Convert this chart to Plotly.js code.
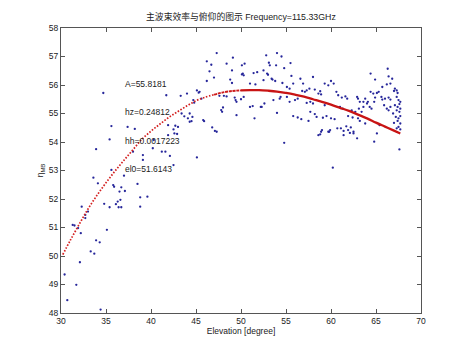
<!DOCTYPE html>
<html>
<head>
<meta charset="utf-8">
<script src="https://cdn.plot.ly/plotly-3.0.1.min.js"></script>
<style>html,body{margin:0;padding:0;background:#fff;}#chart{width:466px;height:351px;}</style>
</head>
<body>
<div id="chart"></div>
<script>
// Measured data (elevation in degrees, main-beam efficiency)
const measEl = [
34.7,41.7,35.6,37.4,38.2,35.4,33.9,38.0,39.1,39.1,40.2,41.2,41.6,40.3,33.6,34.1,35.8,35.9,36.7,37.1,
38.5,34.8,35.4,36.3,36.4,36.7,38.8,39.6,38.8,32.3,32.7,32.7,33.0,31.3,31.5,31.9,32.2,35.1,33.9,34.3,
33.3,33.7,32.1,30.4,31.7,30.7,34.4,35.6,37.0,42.5,36.5,36.6,36.1,
46.2,47.3,46.7,48.4,49.1,49.0,50.2,50.4,51.4,46.2,47.0,48.8,51.0,45.1,45.3,44.0,43.3,44.7,44.8,47.6,
48.1,49.4,48.0,47.9,49.5,51.5,44.3,44.6,43.7,43.4,45.8,45.9,44.3,46.8,47.1,43.0,42.7,42.5,41.9,45.1,
42.1,46.5,50.1,50.1,50.3,51.8,52.5,49.0,51.6,52.5,45.4,45.6,48.4,49.3,49.5,50.0,50.3,51.0,51.3,52.2,
47.8,44.1,44.5,42.9,41.9,42.6,47.3,
54.0,54.5,52.8,53.1,53.2,53.9,55.5,54.8,52.9,53.0,53.5,53.8,53.4,55.6,56.6,58.0,54.6,55.1,55.4,55.8,
56.9,59.3,59.7,60.0,60.3,57.6,57.3,58.2,58.8,56.8,57.1,58.6,58.9,53.6,54.3,54.4,55.1,56.0,56.3,55.4,
57.3,57.7,58.0,59.3,60.6,60.8,61.2,61.6,61.8,61.0,61.3,52.6,52.3,54.0,55.8,56.3,56.7,57.5,57.7,58.2,
58.4,59.1,59.5,60.0,60.4,59.0,58.8,59.8,59.9,60.7,61.1,61.4,61.7,54.8,60.2,
64.4,66.3,64.9,66.4,65.7,66.2,66.6,66.8,65.3,64.7,65.1,64.4,67.1,67.3,67.4,67.0,65.6,66.0,66.4,66.6,
65.7,64.9,64.8,67.3,67.5,67.7,67.6,67.1,67.4,67.7,67.3,67.6,63.8,64.0,64.1,63.6,64.3,64.5,65.9,66.2,
66.4,66.6,63.4,66.9,67.2,67.5,67.7,67.4,67.0,67.7,67.5,67.3,67.7,62.7,62.3,61.9,62.4,63.0,63.2,63.8,
62.2,62.1,62.5,62.9,65.1,64.8,65.4,67.6,58.6,58.9,59.7,61.4,61.9,62.5,63.0,63.2,63.6,62.9,63.1
];
const measEff = [
55.72,55.64,54.56,54.53,54.46,54.09,53.75,53.66,53.54,53.37,53.78,53.66,53.66,54.07,52.75,52.55,52.49,52.43,52.41,52.28,
52.53,51.83,51.71,51.91,51.71,51.71,51.73,52.08,52.06,51.73,51.44,51.33,51.56,51.09,51.07,50.98,50.80,50.92,50.55,50.48,
50.16,50.08,49.78,49.35,48.99,48.45,48.12,53.02,52.82,53.19,52.26,51.97,51.82,
56.83,57.12,56.71,56.75,56.96,56.51,56.40,56.75,56.42,56.14,56.26,56.19,56.05,55.81,55.73,55.70,55.62,55.47,55.38,55.62,
55.62,55.47,55.21,55.06,54.94,54.83,55.00,54.88,54.90,55.00,54.77,54.73,54.71,54.51,54.39,54.53,54.57,54.44,54.59,53.46,
53.51,56.48,56.69,56.37,56.34,56.45,56.51,56.07,56.02,56.17,55.76,55.52,55.60,55.56,55.41,55.50,55.58,55.23,55.26,55.23,
55.12,54.83,54.73,54.28,54.24,54.30,54.36,
57.12,57.00,57.04,56.78,56.69,56.69,56.77,56.59,56.40,56.36,56.19,56.14,56.22,56.32,56.22,56.28,56.07,55.93,55.87,56.05,
56.05,56.05,55.99,56.14,56.05,55.87,55.81,55.84,55.78,55.79,55.76,55.70,55.67,55.47,55.52,55.58,55.58,55.47,55.52,55.41,
55.37,55.41,55.35,55.29,55.76,55.64,55.56,55.60,55.52,55.23,55.17,55.35,55.23,55.02,54.91,54.86,54.80,54.74,55.06,54.98,
54.88,54.85,54.91,54.83,54.80,54.42,54.27,54.36,54.42,54.48,54.48,54.39,54.55,53.97,53.10,
56.40,56.57,56.19,56.30,55.93,56.02,56.05,56.22,55.76,55.70,55.72,55.76,55.87,55.81,55.72,55.79,55.58,55.52,55.56,55.49,
55.49,55.56,55.41,55.58,55.47,55.41,55.33,55.29,55.23,55.17,55.11,55.06,55.52,55.35,55.41,55.41,55.23,55.17,55.29,55.17,
55.11,55.23,55.06,55.00,54.88,54.83,54.91,54.74,54.67,54.65,54.53,54.48,54.44,55.06,55.11,54.91,54.86,54.83,54.74,54.65,
54.51,54.32,54.30,54.13,54.30,54.01,54.59,53.74,54.24,54.36,54.36,54.24,54.42,54.36,55.52,55.41,55.23,55.58,55.17
];
// Fitted curve
const fitEl  = [30.2,31,32,33,34,35,36,37,38,39,40,41,42,43,44,45,46,47,48,49,50,51,52,53,54,55,56,57,58,59,60,61,62,63,64,65,66,67,67.7];
const fitEff = [50.05,50.53,51.1,51.65,52.13,52.57,52.98,53.36,53.73,54.1,54.38,54.63,54.87,55.07,55.27,55.45,55.57,55.66,55.74,55.79,55.81,55.82,55.82,55.8,55.77,55.72,55.66,55.59,55.5,55.41,55.31,55.2,55.09,54.96,54.83,54.68,54.54,54.4,54.3];
const xTicks = [30,35,40,45,50,55,60,65,70];
const yTicks = [48,49,50,51,52,53,54,55,56,57,58];
const titleText = '主波束效率与俯仰的图示 Frequency=115.33GHz';
const fitLabels = ['A=55.8181','hz=0.24812','hh=0.0017223','el0=51.6143'];
const labelY = [56.04,55.06,54.04,53.04];
const labelX = 36.9;

const split1 = 17;  // dotted part ends (47 deg)
const split2 = 20;  // medium part ends (50 deg)
const traces = [
  {x: measEl, y: measEff, type:'scatter', mode:'markers',
   marker:{size:2.3, color:'#26269a'}},
  {x: fitEl.slice(0, split1+1), y: fitEff.slice(0, split1+1), type:'scatter', mode:'lines',
   line:{color:'#d42020', width:1.7, dash:'1.6px,1.6px', shape:'spline'}},
  {x: fitEl.slice(split1, split2+1), y: fitEff.slice(split1, split2+1), type:'scatter', mode:'lines',
   line:{color:'#cc1a1a', width:1.9, dash:'3px,0.8px', shape:'spline'}},
  {x: fitEl.slice(split2), y: fitEff.slice(split2), type:'scatter', mode:'lines',
   line:{color:'#c81414', width:2.3, shape:'spline'}}
];

const axisCommon = {
  showline:true, linecolor:'#555', linewidth:1, mirror:'ticks',
  ticks:'inside', ticklen:4, tickcolor:'#555', showgrid:false, zeroline:false,
  tickfont:{size:8.5, color:'#222'}
};

const layout = {
  width:466, height:351,
  margin:{l:61, r:45, t:27.5, b:37.5},
  paper_bgcolor:'#ffffff', plot_bgcolor:'#ffffff',
  showlegend:false,
  font:{family:'Liberation Sans, Arial, "Noto Sans CJK SC", sans-serif', size:8.5, color:'#222'},
  title:{text:titleText, x:0.517, xanchor:'center', y:1-17/351, yref:'container', yanchor:'middle',
         font:{size:8.8, color:'#222'}},
  xaxis: Object.assign({}, axisCommon, {range:[30,70], tickvals:xTicks, ticktext:xTicks.map(String),
         title:{text:'Elevation [degree]', standoff:2, font:{size:8.5}}}),
  yaxis: Object.assign({}, axisCommon, {range:[48,58], tickvals:yTicks, ticktext:yTicks.map(String),
         title:{text:'η<sub>MB</sub>', standoff:3, font:{size:8.5}}}),
  annotations: fitLabels.map((t,i)=>({x:labelX, y:labelY[i], xref:'x', yref:'y', text:t,
         showarrow:false, xanchor:'left', yanchor:'middle', font:{size:8.5, color:'#222'}}))
};

Plotly.newPlot('chart', traces, layout, {displayModeBar:false, staticPlot:true});
</script>
</body>
</html>
